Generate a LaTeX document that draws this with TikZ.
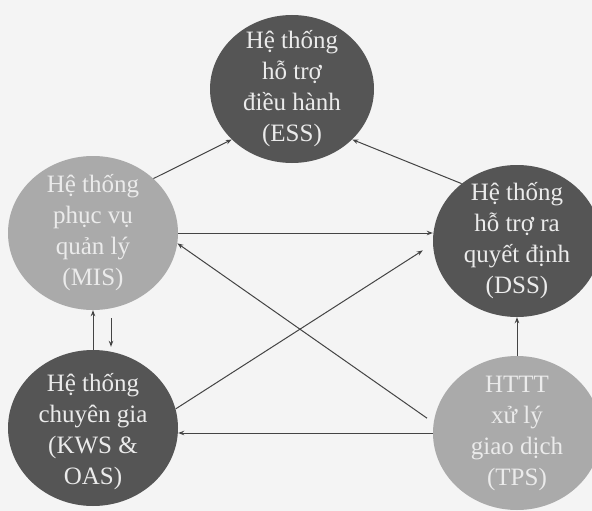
\documentclass[tikz,border=0pt]{standalone}
\usepackage{fontspec}
\setmainfont{Liberation Serif}
\usetikzlibrary{arrows.meta,shapes.geometric}
\definecolor{pagegray}{HTML}{F4F4F4}
\definecolor{sysdark}{HTML}{555555}
\definecolor{syslight}{HTML}{AAAAAA}
\definecolor{arrgray}{HTML}{444444}

\begin{document}
\begin{tikzpicture}[x=1pt,y=-1pt,>={Stealth[length=6pt,width=4.5pt]},
 sys/.style={ellipse,minimum width=168pt,minimum height=152pt,inner sep=0pt},
 dark/.style={sys,fill=sysdark},
 light/.style={sys,fill=syslight},
 lbl/.style={align=center,font=\fontsize{25}{31}\selectfont,text=white!92!black},
 arr/.style={->,line width=1pt,draw=arrgray}]
\useasboundingbox (0,0) rectangle (592,511);
\clip (0,0) rectangle (592,511);
\fill[pagegray] (0,0) rectangle (592,511);
\node[dark,minimum width=164pt,minimum height=148pt] (ess) at (292,89) {};
\node[light,minimum width=170pt,minimum height=154pt] (mis) at (93,233) {};
\node[dark] (dss) at (517,241) {};
\node[dark,minimum width=170pt,minimum height=156pt] (kws) at (93,428) {};
\node[light,minimum height=154pt] (tps) at (517,433) {};
\node[lbl] (ess-t) at (ess) {Hệ thống\\hỗ trợ\\điều hành\\(ESS)};
\node[lbl] (mis-t) at (mis) {Hệ thống\\phục vụ\\quản lý\\(MIS)};
\node[lbl] (dss-t) at (dss) {Hệ thống\\hỗ trợ ra\\quyết định\\(DSS)};
\node[lbl,yshift=-4pt] (kws-t) at (kws) {Hệ thống\\chuyên gia\\(KWS \&\\OAS)};
\node[lbl] (tps-t) at (tps) {HTTT\\xử lý\\giao dịch\\(TPS)};
\draw[arr] (mis.42) -- (ess.220);
\draw[arr] (dss.134) -- (ess.-40);
\draw[arr] (mis.east) -- (mis.east -| dss.west);
\draw[arr,shorten <=8pt] (tps.173) -- (mis.-7);
\draw[arr,shorten >=12pt] (kws.13) -- (dss.182);
\draw[arr] (tps.west) -- (tps.west -| kws.east);
\draw[arr] (tps.north) -- (dss.south);
\draw[arr] (kws.north) -- (mis.south);
\draw[arr,shorten <=8pt,shorten >=3pt] ([xshift=18pt]mis.south) -- ([xshift=18pt]mis.south |- kws.north);
\end{tikzpicture}
\end{document}
